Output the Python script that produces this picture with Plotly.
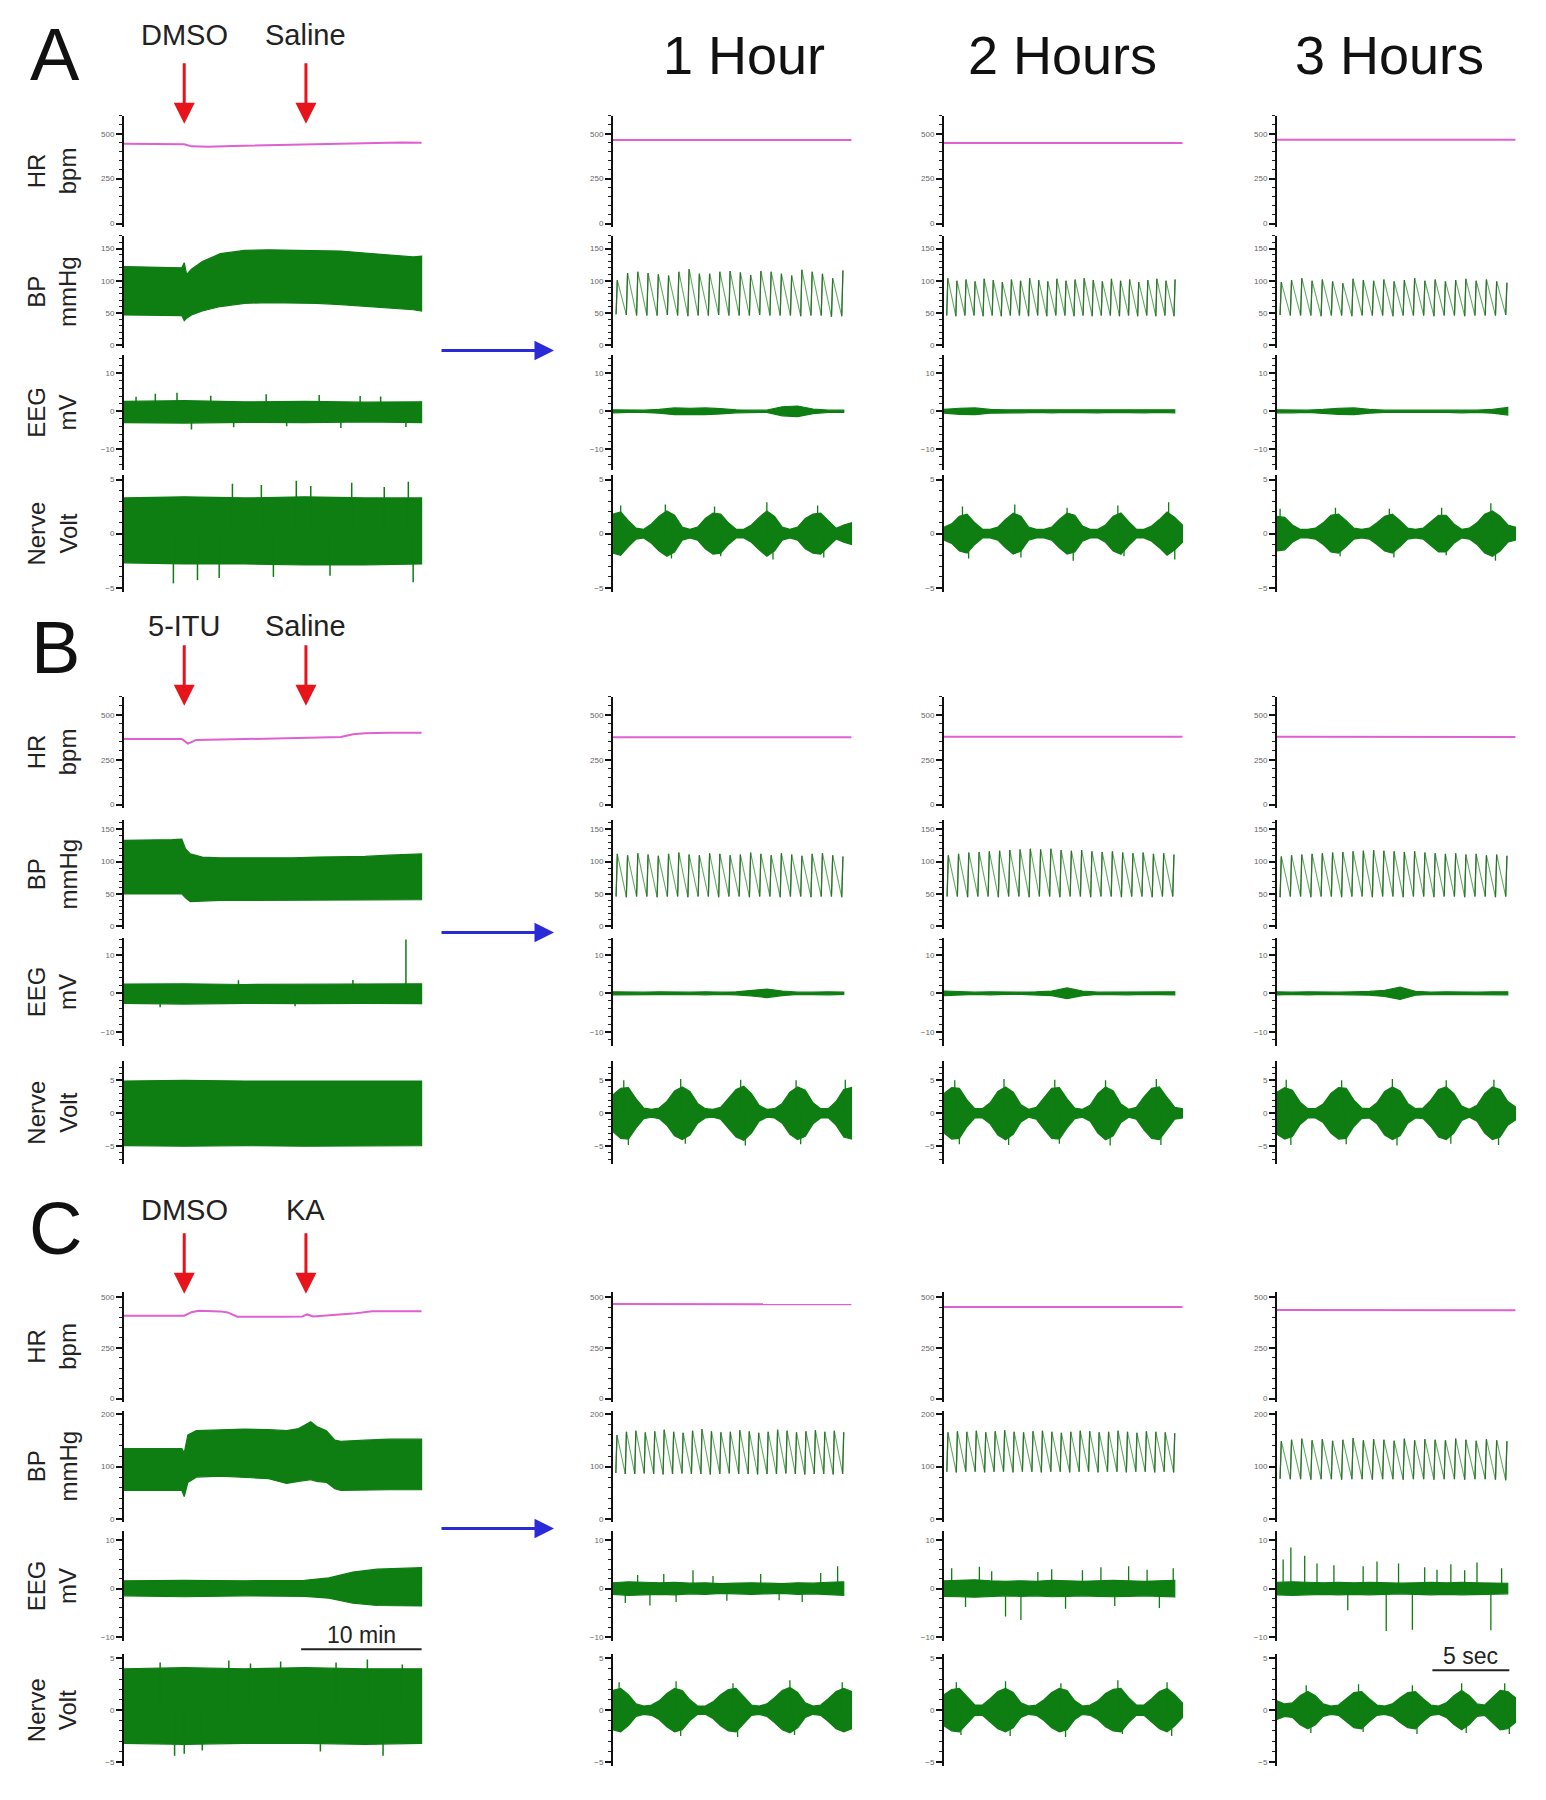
import plotly.graph_objects as go

# ---------------- overview recordings (time in min) ----------------
A_hr_t = [0, 2, 4, 5, 5.6, 7, 9, 11, 13, 15, 17, 19, 21, 23, 24.7]
A_hr = [444, 444, 443, 442, 430, 428, 432, 435, 437, 440, 444, 448, 450, 451, 450]
A_bp_t = [0, 2, 4, 4.8, 5.0, 5.2, 5.6, 6.5, 8, 10, 12, 14, 16, 18, 20, 22, 24, 24.7]
A_bp_hi = [122, 121, 120, 120, 128, 110, 118, 130, 142, 147, 148, 147, 147, 146, 143, 140, 137, 138]
A_bp_lo = [47, 47, 46, 46, 38, 42, 47, 53, 60, 65, 66, 66, 65, 63, 61, 58, 55, 53]
A_eeg_t = [0, 5, 10, 15, 20, 24.7]
A_eeg_hi = [2.6, 2.8, 2.5, 2.6, 2.4, 2.5]
A_eeg_lo = [-3.0, -3.1, -2.9, -3.0, -2.8, -3.0]
A_eeg_spk_t = [1.0, 2.6, 4.4, 5.6, 7.2, 9.1, 11.8, 13.5, 16.2, 18.0, 19.6, 21.3, 23.4]
A_eeg_spk = [3.8, 4.6, 4.9, -4.8, 4.1, -4.2, 4.5, -3.9, 4.3, -4.4, 4.0, 3.9, -4.1]
A_nv_t = [0, 5, 10, 15, 20, 24.7]
A_nv_hi = [3.3, 3.4, 3.3, 3.4, 3.3, 3.3]
A_nv_lo = [-2.7, -2.8, -2.8, -2.9, -2.9, -2.8]
A_nv_spk_t = [4.1, 6.1, 7.9, 12.4, 17.1, 24.0, 9.0, 11.4, 14.3, 15.5, 18.9, 21.6, 23.6]
A_nv_spk = [-4.6, -4.3, -4.1, -4.0, -3.9, -4.5, 4.6, 4.5, 4.9, 4.4, 4.7, 4.3, 4.8]

B_hr_t = [0, 3, 4.8, 5.3, 6, 8, 10, 12, 14, 16, 18, 19, 20, 22, 24.7]
B_hr = [366, 366, 366, 340, 360, 362, 364, 366, 368, 372, 376, 392, 398, 400, 400]
B_bp_t = [0, 2, 4, 4.8, 5.1, 5.5, 6.5, 8, 10, 12, 14, 16, 18, 20, 22, 24.7]
B_bp_hi = [133, 133, 134, 135, 120, 112, 107, 106, 106, 105, 106, 107, 107, 108, 110, 112]
B_bp_lo = [50, 50, 50, 50, 44, 38, 39, 40, 40, 40, 40, 40, 41, 41, 41, 41]
B_eeg_t = [0, 5, 10, 15, 20, 24.7]
B_eeg_hi = [2.4, 2.5, 2.3, 2.4, 2.4, 2.5]
B_eeg_lo = [-2.6, -2.8, -2.6, -2.7, -2.6, -2.7]
B_eeg_spk_t = [23.4, 3.0, 9.5, 14.2, 19.0]
B_eeg_spk = [14.0, -3.6, 3.4, -3.4, 3.5]
B_nv_t = [0, 5, 10, 15, 20, 24.7]
B_nv_hi = [4.9, 5.0, 4.9, 4.9, 5.0, 4.9]
B_nv_lo = [-4.9, -5.0, -4.9, -5.0, -5.0, -4.9]

C_hr_t = [0, 2, 4, 5.0, 5.6, 6.2, 8.0, 8.6, 9.4, 11, 13, 14.8, 15.2, 15.7, 17, 19, 20.6, 22, 24.7]
C_hr = [407, 407, 407, 408, 425, 432, 429, 424, 403, 401, 402, 404, 414, 404, 410, 418, 430, 431, 430]
C_bp_t = [0, 2, 4, 4.8, 5.0, 5.3, 6, 8, 10, 12, 13.5, 14.5, 15.5, 16, 16.8, 17.5, 18, 20, 22, 24.7]
C_bp_hi = [134, 134, 133, 134, 126, 160, 168, 170, 171, 170, 168, 172, 185, 176, 168, 150, 148, 150, 152, 152]
C_bp_lo = [55, 55, 55, 55, 43, 70, 80, 82, 80, 77, 68, 72, 75, 72, 70, 58, 55, 55, 56, 56]
C_eeg_t = [0, 5, 10, 15, 17, 19, 21, 23, 24.7]
C_eeg_hi = [1.6, 1.7, 1.6, 1.7, 2.2, 3.4, 4.0, 4.2, 4.3]
C_eeg_lo = [-1.5, -1.7, -1.5, -1.6, -2.0, -3.0, -3.5, -3.6, -3.6]
C_nv_t = [0, 5, 10, 15, 20, 24.7]
C_nv_hi = [4.0, 4.1, 4.0, 4.1, 4.0, 4.0]
C_nv_lo = [-3.2, -3.3, -3.2, -3.2, -3.3, -3.2]
C_nv_spk_t = [4.2, 5.0, 6.5, 16.3, 21.5, 3.0, 8.7, 10.5, 13.0, 17.6, 20.2, 23.1]
C_nv_spk = [-4.4, -4.2, -3.9, -4.0, -4.4, 4.6, 4.8, 4.5, 4.7, 4.6, 4.9, 4.4]

# ---------------- 1 / 2 / 3 hour snapshots (time in s) ----------------
T_HR = [0, 5, 10, 15.5]
T_EEG = list(range(16))
T_NV = [k * 0.5 for k in range(32)]

A1_hr = [466, 467, 467, 466]
A2_hr = [449, 448, 448, 449]
A3_hr = [467, 467, 466, 467]
B1_hr = [375, 375, 376, 375]
B2_hr = [378, 378, 377, 378]
B3_hr = [378, 378, 378, 377]
C1_hr = [465, 465, 465, 464]
C2_hr = [450, 450, 449, 450]
C3_hr = [436, 436, 436, 435]

A1_pk = [101, 112, 114, 112, 110, 108, 114, 118, 111, 111, 114, 115, 113, 109, 115, 114, 111, 108, 117, 114, 111, 104, 116]
A1_tr = [48, 47, 46, 46, 46, 47, 46, 45, 46, 46, 47, 46, 46, 46, 47, 46, 46, 46, 45, 46, 46, 44, 45]
A2_pk = [104, 100, 102, 99, 103, 101, 98, 102, 100, 104, 101, 99, 103, 100, 102, 104, 101, 99, 103, 100, 102, 98, 101, 103, 100, 102]
A2_tr = [46, 45, 46, 46, 45, 46, 45, 46, 46, 45, 46, 45, 46, 46, 45, 46, 45, 46, 46, 45, 46, 45, 46, 45, 46, 45]
A3_pk = [98, 101, 104, 100, 102, 99, 96, 103, 101, 100, 102, 99, 101, 104, 100, 102, 99, 101, 103, 100, 102, 99, 97]
A3_tr = [47, 46, 46, 46, 45, 46, 46, 45, 46, 46, 46, 45, 46, 46, 46, 45, 46, 46, 45, 46, 46, 46, 47]
B1_pk = [112, 110, 113, 111, 109, 112, 114, 111, 110, 113, 112, 110, 111, 114, 112, 110, 113, 111, 109, 112, 113, 110, 108]
B1_tr = [46, 45, 46, 46, 45, 46, 46, 45, 46, 46, 45, 46, 46, 45, 46, 46, 45, 46, 46, 45, 46, 46, 45]
B2_pk = [110, 112, 114, 115, 116, 117, 118, 119, 120, 119, 120, 118, 117, 118, 116, 115, 116, 114, 113, 114, 112, 113, 111]
B2_tr = [46, 46, 45, 46, 46, 45, 46, 46, 45, 46, 46, 45, 46, 46, 45, 46, 46, 45, 46, 46, 45, 46, 46]
B3_pk = [108, 110, 111, 112, 113, 114, 115, 116, 117, 118, 117, 116, 115, 116, 114, 113, 112, 113, 111, 112, 110, 111, 109]
B3_tr = [45, 46, 46, 45, 46, 46, 45, 46, 46, 45, 46, 46, 45, 46, 46, 45, 46, 46, 45, 46, 46, 45, 46]
C1_pk = [160, 166, 168, 165, 167, 170, 166, 164, 168, 171, 167, 165, 166, 169, 167, 164, 166, 170, 168, 165, 167, 169, 166, 168, 165]
C1_tr = [88, 86, 86, 87, 86, 85, 86, 87, 86, 86, 85, 86, 87, 86, 86, 85, 86, 86, 87, 86, 85, 86, 86, 85, 86]
C2_pk = [165, 167, 166, 168, 165, 167, 169, 166, 165, 167, 168, 166, 164, 166, 168, 167, 165, 166, 168, 166, 164, 167, 166, 165, 163]
C2_tr = [90, 89, 90, 90, 89, 90, 90, 89, 90, 90, 89, 90, 90, 89, 90, 90, 89, 90, 90, 89, 90, 90, 89, 90, 89]
C3_pk = [148, 151, 153, 150, 152, 149, 151, 154, 150, 152, 151, 149, 153, 150, 152, 151, 150, 153, 151, 149, 152, 150, 148]
C3_tr = [77, 76, 76, 75, 76, 76, 75, 76, 76, 75, 76, 76, 75, 76, 76, 75, 76, 76, 75, 76, 76, 75, 74]

A1_eeg = [0.4, 0.3, 0.3, 0.5, 0.9, 0.8, 0.9, 0.7, 0.4, 0.3, 0.3, 1.2, 1.4, 0.6, 0.3, 0.3]
A2_eeg = [0.5, 0.8, 0.9, 0.5, 0.4, 0.4, 0.3, 0.4, 0.3, 0.3, 0.4, 0.3, 0.3, 0.4, 0.3, 0.4]
A3_eeg = [0.4, 0.4, 0.3, 0.5, 0.8, 0.9, 0.5, 0.3, 0.3, 0.3, 0.3, 0.3, 0.4, 0.3, 0.5, 1.0]
B1_eeg = [0.4, 0.3, 0.3, 0.4, 0.3, 0.3, 0.4, 0.3, 0.4, 0.7, 1.1, 0.6, 0.3, 0.3, 0.4, 0.3]
B2_eeg = [0.6, 0.4, 0.3, 0.4, 0.3, 0.3, 0.4, 0.6, 1.4, 0.6, 0.3, 0.3, 0.4, 0.3, 0.3, 0.4]
B3_eeg = [0.4, 0.3, 0.4, 0.3, 0.3, 0.4, 0.5, 0.8, 1.6, 0.5, 0.3, 0.4, 0.3, 0.3, 0.4, 0.4]
C1_eeg = [1.2, 1.4, 1.3, 1.2, 1.3, 1.1, 1.2, 1.0, 1.1, 1.2, 1.1, 1.0, 1.2, 1.1, 1.3, 1.4]
C2_eeg = [1.6, 1.7, 1.8, 1.6, 1.5, 1.6, 1.5, 1.7, 1.6, 1.5, 1.6, 1.7, 1.6, 1.5, 1.6, 1.7]
C3_eeg = [1.3, 1.4, 1.3, 1.2, 1.3, 1.2, 1.3, 1.2, 1.1, 1.2, 1.3, 1.2, 1.3, 1.2, 1.2, 1.1]
C1_eeg_spk_t = [0.8, 1.6, 2.4, 3.3, 4.1, 5.2, 6.5, 7.4, 9.6, 10.8, 12.3, 13.5, 14.6]
C1_eeg_spk = [-3.0, 2.8, -3.5, 3.0, -2.8, 3.8, 2.6, -2.5, 3.0, -2.4, -2.8, 3.2, 4.6]
C2_eeg_spk_t = [0.5, 1.4, 2.3, 3.1, 4.0, 5.0, 6.1, 7.0, 7.9, 9.0, 10.2, 11.1, 12.0, 13.2, 14.0, 14.9]
C2_eeg_spk = [4.2, -3.8, 4.5, 3.6, -5.8, -6.5, 3.4, 4.0, -4.2, 3.8, 4.4, -3.6, 4.6, 3.9, -4.0, 4.2]
C3_eeg_spk_t = [0.4, 0.9, 1.8, 2.6, 3.7, 4.6, 5.6, 6.5, 7.1, 7.9, 8.8, 9.6, 10.4, 11.3, 12.2, 13.0, 13.9, 14.6]
C3_eeg_spk = [6.0, 8.5, 6.8, 5.2, 4.8, -4.5, 4.6, 5.6, -8.8, 5.2, -8.5, 4.4, 3.9, 5.0, 3.8, 5.4, -8.6, 4.2]

A1_nv = [1.8, 2.0, 1.2, 0.5, 0.4, 0.9, 1.6, 2.1, 1.7, 0.6, 0.4, 0.6, 1.4, 1.9, 1.8, 1.0,
         0.4, 0.4, 0.8, 1.5, 2.1, 1.6, 0.6, 0.4, 0.6, 1.4, 1.8, 1.9, 1.2, 0.5, 0.8, 1.0]
A2_nv = [0.6, 0.9, 1.6, 1.8, 1.0, 0.4, 0.4, 0.6, 1.3, 1.9, 1.6, 0.6, 0.4, 0.4, 0.6, 1.3,
         1.9, 1.7, 0.7, 0.4, 0.4, 0.8, 1.6, 1.9, 1.1, 0.4, 0.4, 0.7, 1.3, 2.0, 1.5, 0.8]
A3_nv = [1.6, 1.5, 0.8, 0.4, 0.4, 0.5, 1.0, 1.7, 1.8, 1.2, 0.5, 0.4, 0.5, 1.0, 1.6, 1.8,
         1.2, 0.5, 0.4, 0.5, 1.1, 1.7, 1.7, 0.9, 0.4, 0.5, 1.0, 1.8, 2.1, 1.6, 0.8, 0.6]
B1_nv = [2.8, 3.8, 3.9, 2.2, 0.8, 0.6, 0.8, 1.8, 3.4, 4.0, 3.3, 1.5, 0.7, 0.6, 0.9, 2.2,
         3.6, 4.1, 3.0, 1.2, 0.6, 0.7, 1.5, 3.2, 4.0, 3.5, 1.6, 0.7, 0.7, 1.8, 3.6, 3.9]
B2_nv = [3.0, 3.9, 3.8, 2.0, 0.7, 0.7, 1.6, 3.3, 4.0, 3.2, 1.3, 0.6, 0.9, 2.4, 3.8, 3.9,
         2.2, 0.8, 0.6, 1.2, 3.0, 4.0, 3.4, 1.4, 0.6, 0.9, 2.5, 3.8, 4.0, 2.4, 0.9, 0.7]
B3_nv = [3.2, 3.9, 3.5, 1.7, 0.7, 0.7, 1.4, 3.0, 3.9, 3.8, 2.0, 0.8, 0.7, 1.6, 3.3, 4.0,
         3.4, 1.5, 0.7, 0.8, 2.0, 3.6, 4.0, 3.0, 1.1, 0.6, 1.2, 3.0, 4.0, 3.6, 1.8, 1.0]
C1_nv = [1.9, 2.1, 1.5, 0.6, 0.4, 0.5, 0.9, 1.6, 2.1, 1.9, 1.0, 0.4, 0.4, 0.8, 1.5, 2.0,
         2.1, 1.3, 0.5, 0.4, 0.6, 1.2, 1.9, 2.2, 1.7, 0.7, 0.4, 0.5, 1.1, 1.8, 2.1, 1.8]
C2_nv = [1.5, 2.0, 2.1, 1.3, 0.5, 0.5, 1.1, 1.8, 2.1, 1.7, 0.7, 0.4, 0.5, 1.0, 1.7, 2.1,
         1.9, 0.9, 0.4, 0.5, 0.9, 1.6, 2.0, 2.1, 1.2, 0.5, 0.5, 1.1, 1.8, 2.1, 1.5, 0.7]
C3_nv = [0.9, 0.6, 0.7, 1.4, 1.8, 1.4, 0.6, 0.4, 0.5, 1.1, 1.7, 1.8, 1.1, 0.5, 0.4, 0.6,
         1.2, 1.7, 1.8, 1.1, 0.5, 0.4, 0.7, 1.4, 1.9, 1.4, 0.6, 0.5, 1.2, 1.9, 1.8, 1.2]

# spikes riding on the nerve bursts
A1_nv_spk_t = [0.5, 3.4, 3.8, 6.6, 7.0, 10.0, 10.4, 13.3, 13.7]
A1_nv_spk = [2.6, 2.7, -2.3, 2.5, -2.1, 2.9, -2.4, 2.6, -2.2]
A2_nv_spk_t = [1.2, 1.6, 4.6, 5.0, 8.0, 8.4, 11.3, 11.7, 14.6, 15.0]
A2_nv_spk = [2.5, -2.3, 2.7, -2.2, 2.4, -2.5, 2.6, -2.1, 2.9, -2.4]
A3_nv_spk_t = [0.2, 3.8, 4.1, 7.3, 7.6, 10.7, 11.0, 13.9, 14.2]
A3_nv_spk = [2.3, 2.4, -2.1, 2.3, -2.2, 2.4, -2.0, 2.8, -2.5]
B1_nv_spk_t = [0.7, 1.0, 4.4, 4.7, 8.3, 8.6, 11.9, 12.2, 15.1]
B1_nv_spk = [5.0, -4.8, 5.2, -4.6, 5.1, -4.9, 5.0, -4.7, 5.1]
B2_nv_spk_t = [0.7, 1.0, 3.9, 4.2, 7.2, 7.5, 10.5, 10.8, 13.8, 14.1]
B2_nv_spk = [5.0, -4.7, 5.2, -4.8, 5.1, -4.6, 5.0, -4.9, 5.2, -4.8]
B3_nv_spk_t = [0.6, 0.9, 4.2, 4.5, 7.5, 7.8, 11.0, 11.3, 14.1, 14.4]
B3_nv_spk = [5.1, -4.8, 5.0, -4.7, 5.2, -4.9, 5.0, -4.6, 5.1, -4.8]
C1_nv_spk_t = [0.4, 4.1, 4.4, 7.8, 8.1, 11.5, 11.8, 14.9]
C1_nv_spk = [2.7, 2.8, -2.5, 2.6, -2.6, 2.9, -2.4, 2.7]
C2_nv_spk_t = [0.8, 1.1, 4.0, 4.3, 7.6, 7.9, 11.3, 11.6, 14.5, 14.8]
C2_nv_spk = [2.7, -2.4, 2.8, -2.5, 2.6, -2.6, 2.9, -2.3, 2.7, -2.5]
C3_nv_spk_t = [1.9, 2.2, 5.3, 5.6, 8.8, 9.1, 12.0, 12.3, 14.8, 15.1]
C3_nv_spk = [2.4, -2.2, 2.5, -2.1, 2.4, -2.3, 2.6, -2.2, 2.6, -2.3]

HEADERS = ["1 Hour", "2 Hours", "3 Hours"]
PANELS = ["A", "B", "C"]
DRUGS = [("DMSO", "Saline"), ("5-ITU", "Saline"), ("DMSO", "KA")]
DRUG_T = [5.0, 15.1]
ROW_LABELS = ["HR<br>bpm", "BP<br>mmHg", "EEG<br>mV", "Nerve<br>Volt"]

# ---------------- layout geometry (pixels) ----------------
W, H = 1546, 1800
OFF = 8  # page body margin of the html page
FONT = "Liberation Sans, Arial, sans-serif"
GREEN = "#0e7d12"
BPGREEN = "rgb(95,175,95)"
PINK = "rgb(222,96,210)"

COL_X = [(124, 424), (613, 853), (944, 1184), (1277, 1517)]
PANEL_ROWS = [
    [(115, 226), (235, 348), (355, 470), (475, 592)],
    [(697, 808), (820, 930), (939, 1047), (1062, 1165)],
    [(1293, 1403), (1412, 1524), (1533, 1643), (1656, 1768)],
]
Y_RANGES = [
    [(-17, 600), (-5, 170), (-15.5, 14.7), (-5.4, 5.4)],
    [(-17, 600), (-5, 165), (-13.8, 14.3), (-7.7, 7.9)],
    [(-15, 525), (-6, 206), (-10.9, 11.8), (-5.4, 5.4)],
]
Y_TICKS = [
    [[0, 250, 500], [0, 50, 100, 150], [-10, 0, 10], [-5, 0, 5]],
    [[0, 250, 500], [0, 50, 100, 150], [-10, 0, 10], [-5, 0, 5]],
    [[0, 250, 500], [0, 100, 200], [-10, 0, 10], [-5, 0, 5]],
]
MINOR = [[50, 10, 2, 1], [50, 10, 2, 1], [50, 20, 2, 1]]


def px(x):
    return (x - OFF) / W


def py(y):
    return 1 - (y - OFF) / H


fig = go.Figure()


def sid(n):
    return "" if n == 1 else str(n)


def axis_no(p, c, r):
    return p * 16 + c * 4 + r + 1


def add_line(n, x, y, color, width):
    fig.add_trace(go.Scatter(x=x, y=y, mode="lines", line=dict(color=color, width=width),
                             xaxis="x" + sid(n), yaxis="y" + sid(n), hoverinfo="skip"))


def add_band(n, t, hi, lo):
    fig.add_trace(go.Scatter(x=list(t) + list(t)[::-1], y=list(hi) + list(lo)[::-1],
                             mode="lines", fill="toself", fillcolor=GREEN,
                             line=dict(color=GREEN, width=1.2),
                             xaxis="x" + sid(n), yaxis="y" + sid(n), hoverinfo="skip"))


def add_spikes(n, t, v, width=1.5):
    xs, ys = [], []
    for a, b in zip(t, v):
        xs += [a, a, None]
        ys += [0, b, None]
    add_line(n, xs, ys, GREEN, width)


def add_beats(n, pk, tr):
    xs, ys = [], []
    for i, (p, q) in enumerate(zip(pk, tr)):
        xs += [i, i + 0.12]
        ys += [q, p]
    add_line(n, xs, ys, BPGREEN, 1.1)
    # darker upstrokes
    ux, uy = [], []
    for i, (p, q) in enumerate(zip(pk, tr)):
        ux += [i, i + 0.12, None]
        uy += [q, p, None]
    add_line(n, ux, uy, "#2f6f2f", 1.3)


# ---------------- axes ----------------
layout_axes = {}
for p in range(3):
    for c in range(4):
        for r in range(4):
            n = axis_no(p, c, r)
            x0, x1 = COL_X[c]
            top, bot = PANEL_ROWS[p][r]
            xr = [0, 24.9] if c == 0 else [0, 15.6]
            layout_axes["xaxis" + sid(n)] = dict(
                domain=[px(x0), px(x1)], range=xr, visible=False,
                anchor="y" + sid(n), fixedrange=True)
            layout_axes["yaxis" + sid(n)] = dict(
                domain=[py(bot), py(top)], range=list(Y_RANGES[p][r]),
                anchor="x" + sid(n), tickvals=Y_TICKS[p][r], ticks="outside",
                ticklen=6, tickwidth=1.5, tickcolor="#111", showline=True,
                linewidth=2, linecolor="#111", showgrid=False, zeroline=False,
                tickfont=dict(size=8, color="#666", family=FONT),
                minor=dict(ticks="outside", ticklen=3, tickwidth=1,
                           tickcolor="#222", dtick=MINOR[p][r], showgrid=False),
                fixedrange=True)

# ---------------- overview traces ----------------
overview = [
    (A_hr_t, A_hr, A_bp_t, A_bp_hi, A_bp_lo, A_eeg_t, A_eeg_hi, A_eeg_lo, A_nv_t, A_nv_hi, A_nv_lo),
    (B_hr_t, B_hr, B_bp_t, B_bp_hi, B_bp_lo, B_eeg_t, B_eeg_hi, B_eeg_lo, B_nv_t, B_nv_hi, B_nv_lo),
    (C_hr_t, C_hr, C_bp_t, C_bp_hi, C_bp_lo, C_eeg_t, C_eeg_hi, C_eeg_lo, C_nv_t, C_nv_hi, C_nv_lo),
]
for p, d in enumerate(overview):
    add_line(axis_no(p, 0, 0), d[0], d[1], PINK, 2)
    add_band(axis_no(p, 0, 1), d[2], d[3], d[4])
    add_band(axis_no(p, 0, 2), d[5], d[6], d[7])
    add_band(axis_no(p, 0, 3), d[8], d[9], d[10])

add_spikes(axis_no(0, 0, 2), A_eeg_spk_t, A_eeg_spk)
add_spikes(axis_no(0, 0, 3), A_nv_spk_t, A_nv_spk)
add_spikes(axis_no(1, 0, 2), B_eeg_spk_t, B_eeg_spk)
add_spikes(axis_no(2, 0, 3), C_nv_spk_t, C_nv_spk)

# ---------------- snapshot traces ----------------
snap_hr = [[A1_hr, A2_hr, A3_hr], [B1_hr, B2_hr, B3_hr], [C1_hr, C2_hr, C3_hr]]
snap_pk = [[A1_pk, A2_pk, A3_pk], [B1_pk, B2_pk, B3_pk], [C1_pk, C2_pk, C3_pk]]
snap_tr = [[A1_tr, A2_tr, A3_tr], [B1_tr, B2_tr, B3_tr], [C1_tr, C2_tr, C3_tr]]
snap_eeg = [[A1_eeg, A2_eeg, A3_eeg], [B1_eeg, B2_eeg, B3_eeg], [C1_eeg, C2_eeg, C3_eeg]]
snap_nv = [[A1_nv, A2_nv, A3_nv], [B1_nv, B2_nv, B3_nv], [C1_nv, C2_nv, C3_nv]]
snap_nv_spk = [
    [(A1_nv_spk_t, A1_nv_spk), (A2_nv_spk_t, A2_nv_spk), (A3_nv_spk_t, A3_nv_spk)],
    [(B1_nv_spk_t, B1_nv_spk), (B2_nv_spk_t, B2_nv_spk), (B3_nv_spk_t, B3_nv_spk)],
    [(C1_nv_spk_t, C1_nv_spk), (C2_nv_spk_t, C2_nv_spk), (C3_nv_spk_t, C3_nv_spk)],
]
eeg_spk = {(2, 0): (C1_eeg_spk_t, C1_eeg_spk), (2, 1): (C2_eeg_spk_t, C2_eeg_spk),
           (2, 2): (C3_eeg_spk_t, C3_eeg_spk)}

for p in range(3):
    for k in range(3):
        c = k + 1
        add_line(axis_no(p, c, 0), T_HR, snap_hr[p][k], PINK, 2)
        pk, tr = snap_pk[p][k], snap_tr[p][k]
        nb = axis_no(p, c, 1)
        layout_axes["xaxis" + sid(nb)]["range"] = [-0.3, len(pk) + 0.1]
        add_beats(nb, pk, tr)
        amp = snap_eeg[p][k]
        add_band(axis_no(p, c, 2), T_EEG, amp, [-a for a in amp])
        if (p, k) in eeg_spk:
            add_spikes(axis_no(p, c, 2), *eeg_spk[(p, k)], width=1.3)
        amp = snap_nv[p][k]
        add_band(axis_no(p, c, 3), T_NV, amp, [-a for a in amp])
        add_spikes(axis_no(p, c, 3), *snap_nv_spk[p][k], width=1.3)

# ---------------- text, arrows, scale bars ----------------
ann = []
shapes = []
LETTER_Y = [54, 648, 1230]
DRUG_Y = [34, 626, 1211]
ARROW_TIP = [123, 706, 1295]
BLUE_Y = [350, 933, 1530]


def text(s, x, y, size, xref="paper", angle=0, color="#111"):
    ann.append(dict(text=s, x=x, y=y, xref=xref, yref="paper", showarrow=False,
                    xanchor="center", yanchor="middle", textangle=angle,
                    font=dict(size=size, color=color, family=FONT)))


for p in range(3):
    text(PANELS[p], px(55), py(LETTER_Y[p]), 74)
    xref = "x" + sid(axis_no(p, 0, 0))
    for j in range(2):
        text(DRUGS[p][j], DRUG_T[j], py(DRUG_Y[p]), 29, xref=xref, color="#222")
        ann.append(dict(text="", x=DRUG_T[j], y=py(ARROW_TIP[p]), xref=xref, yref="paper",
                        showarrow=True, ax=0, ay=-62, arrowhead=2, arrowsize=1.4,
                        arrowwidth=3, arrowcolor="#e8141c"))
    ann.append(dict(text="", x=px(554), y=py(BLUE_Y[p]), xref="paper", yref="paper",
                    showarrow=True, ax=-114, ay=0, arrowhead=2, arrowsize=1.3,
                    arrowwidth=3, arrowcolor="#2a2ad8"))
    for r in range(4):
        top, bot = PANEL_ROWS[p][r]
        text(ROW_LABELS[r], px(52), py((top + bot) / 2), 24, angle=-90, color="#222")

HEADER_X = [744, 1062, 1389]
for k in range(3):
    text(HEADERS[k], px(HEADER_X[k]), py(54), 54)

# 10 min bar (overview column, panel C)
xr10 = "x" + sid(axis_no(2, 0, 2))
shapes.append(dict(type="line", xref=xr10, yref="paper", x0=14.7, x1=24.7,
                   y0=py(1651), y1=py(1651), line=dict(color="#222", width=2)))
text("10 min", 19.7, py(1637), 23, xref=xr10, color="#222")
# 5 sec bar (3 hour column, panel C)
xr5 = "x" + sid(axis_no(2, 3, 3))
shapes.append(dict(type="line", xref=xr5, yref="paper", x0=10.1, x1=15.1,
                   y0=py(1672), y1=py(1672), line=dict(color="#222", width=2)))
text("5 sec", 12.6, py(1658), 23, xref=xr5, color="#222")

fig.update_layout(
    width=W, height=H, margin=dict(l=0, r=0, t=0, b=0),
    paper_bgcolor="white", plot_bgcolor="white", showlegend=False,
    annotations=ann, shapes=shapes, **layout_axes)

fig.write_html("out.html")
